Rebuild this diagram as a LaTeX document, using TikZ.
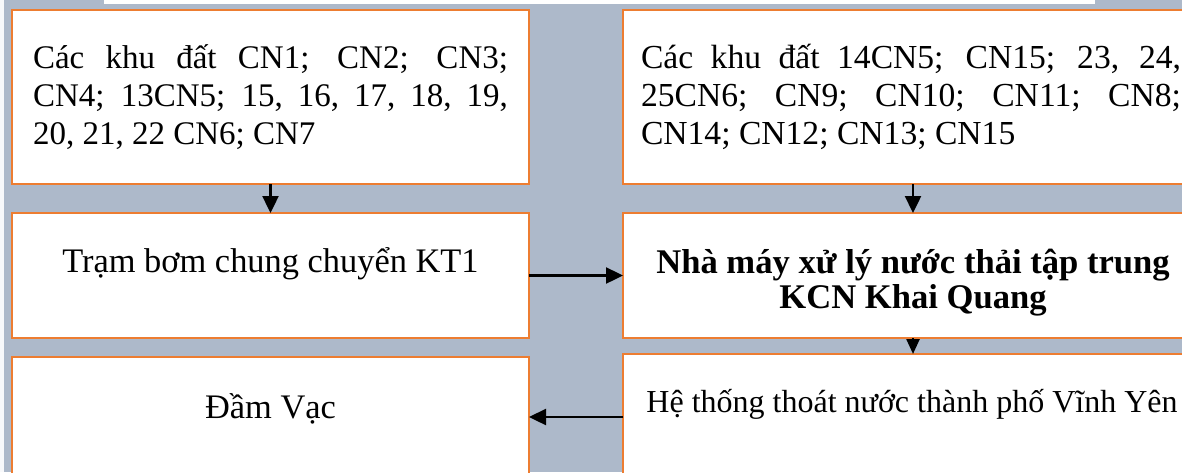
\documentclass[tikz,border=0pt]{standalone}
\usepackage{fontspec}
\setmainfont{Liberation Serif}
\usetikzlibrary{arrows.meta}
\definecolor{bgray}{HTML}{ADB9CA}
\definecolor{obord}{HTML}{ED7D31}
\begin{document}
\begin{tikzpicture}[x=1pt,y=-1pt,
  box/.style={draw=obord,line width=1.3pt,fill=white,inner sep=0pt,outer sep=0pt,rectangle},
  txt/.style={anchor=base west,inner sep=0pt,outer sep=0pt,font=\fontsize{33}{38}\selectfont},
  rtxt/.style={txt,font=\fontsize{33.6}{38}\selectfont},
  ctxt/.style={anchor=base,inner sep=0pt,outer sep=0pt,font=\fontsize{34.4}{38}\selectfont},
  btxt/.style={ctxt,font=\fontsize{34.6}{38}\selectfont\bfseries},
  stxt/.style={ctxt,font=\fontsize{32}{38}\selectfont},
  arr/.style={draw=black,line width=2.4pt,-{Triangle[length=17pt,width=16pt]}}]
\useasboundingbox (0,0) rectangle (1182,472);
\clip (0,0) rectangle (1182,472);
\fill[bgray] (0,0) rectangle (1182,472);
\fill[white!92!bgray] (0,0) rectangle (4,472);
\fill[white] (104,0) rectangle (1095,3.5);
% boxes
\node[box,minimum width=517pt,minimum height=174pt] (b1) at (270.5,97) {};
\node[box,minimum width=580pt,minimum height=174pt] (b2) at (913,97) {};
\node[box,minimum width=517pt,minimum height=125pt] (b3) at (270.5,275.5) {};
\node[box,minimum width=580pt,minimum height=125pt] (b4) at (913,275.5) {};
\node[box,minimum width=517pt,minimum height=120pt] (b5) at (270.5,417) {};
\node[box,minimum width=580pt,minimum height=126pt] (b6) at (913,417) {};
% texts
\node[txt] (t1a) at (33,68) {\makebox[475pt][s]{Các khu đất CN1; CN2; CN3;}};
\node[txt] (t1b) at (33,106) {\makebox[475pt][s]{CN4; 13CN5; 15, 16, 17, 18, 19,}};
\node[txt] (t1c) at (33,144) {20, 21, 22 CN6; CN7};
\node[rtxt] (t2a) at (641,68) {\makebox[540pt][s]{Các khu đất 14CN5; CN15; 23, 24,}};
\node[rtxt] (t2b) at (641,106) {\makebox[540pt][s]{25CN6; CN9; CN10; CN11; CN8;}};
\node[rtxt] (t2c) at (641,144) {CN14; CN12; CN13; CN15};
\node[ctxt] (t3) at (270.5,272) {Trạm bơm chung chuyển KT1};
\node[btxt] (t4a) at (913,273) {Nhà máy xử lý nước thải tập trung};
\node[btxt] (t4b) at (913,308) {KCN Khai Quang};
\node[ctxt] (t5) at (270.5,418) {Đầm Vạc};
\node[stxt] (t6) at (912,412) {Hệ thống thoát nước thành phố Vĩnh Yên};
% connectors
\draw[arr] (b1.south) -- (b3.north);
\draw[arr] (b2.south) -- (b4.north);
\draw[arr] (b3.east) -- (b4.west);
\draw[arr,-{Triangle[length=15pt,width=13pt]}] (b4.south) -- (b6.north);
\draw[arr] (b6.west) -- (b5.east);
\end{tikzpicture}
\end{document}
